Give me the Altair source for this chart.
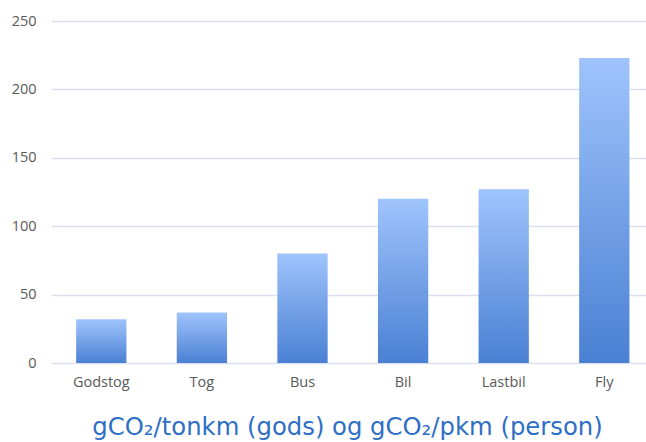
import altair as alt
import pandas as pd

categories = ["Godstog", "Tog", "Bus", "Bil", "Lastbil", "Fly"]
values = [32, 37, 80, 120, 127, 223]
y_ticks = [0, 50, 100, 150, 200, 250]
x_title = "gCO₂/tonkm (gods) og gCO₂/pkm (person)"

df = pd.DataFrame({"kategori": categories, "verdi": values})

gradient = alt.Gradient(
    gradient="linear",
    x1=0, y1=0, x2=0, y2=1,
    stops=[
        alt.GradientStop(offset=0, color="#9fc4fc"),
        alt.GradientStop(offset=1, color="#4a80d3"),
    ],
)

chart = (
    alt.Chart(df)
    .mark_bar(color=gradient)
    .encode(
        x=alt.X(
            "kategori:N",
            sort=categories,
            scale=alt.Scale(range=[0, 603.6], paddingInner=0.5, paddingOuter=0.25),
            axis=alt.Axis(
                title=x_title,
                labelAngle=0,
                labelFont="Open Sans",
                labelFontSize=14.5,
                labelColor="#595959",
                labelPadding=12,
                ticks=False,
                domain=False,
                grid=False,
                titleFont="DejaVu Sans",
                titleFontSize=24.3,
                titleFontWeight="normal",
                titleColor="#2e6fc5",
                titlePadding=27,
                titleX=296,
                titleAnchor="middle",
                titleAlign="center",
            ),
        ),
        y=alt.Y(
            "verdi:Q",
            scale=alt.Scale(domain=[0, 250], nice=False),
            axis=alt.Axis(
                title=None,
                values=y_ticks,
                labelFont="Open Sans",
                labelFontSize=14.5,
                labelColor="#595959",
                labelPadding=15,
                ticks=False,
                domain=False,
                gridColor="#d9e1ee",
                gridWidth=1.5,
            ),
        ),
    )
    .properties(
        width=595,
        height=342,
        padding={"left": 51, "top": 21, "right": 0, "bottom": 79},
        autosize=alt.AutoSizeParams(type="none"),
    )
    .configure(background="white")
    .configure_view(stroke=None)
)

chart.save("out.html", embed_options={"renderer": "svg", "actions": False})
